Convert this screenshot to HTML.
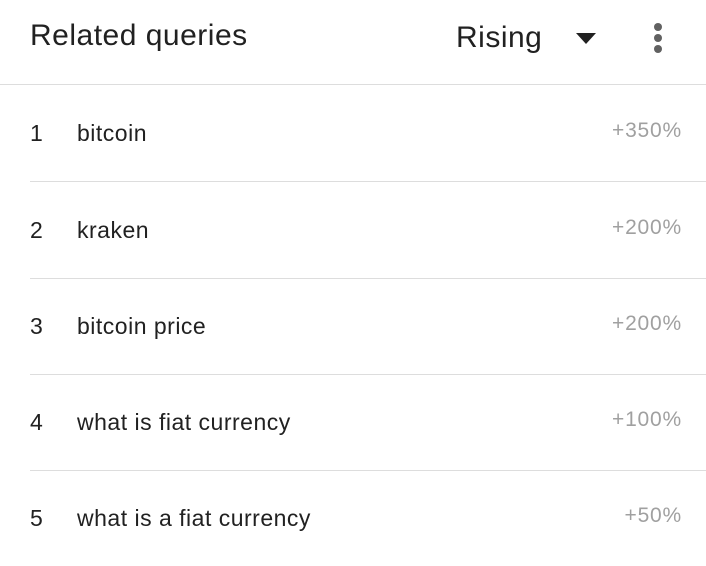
<!DOCTYPE html>
<html><head><meta charset="utf-8"><style>
body{margin:0;width:706px;height:555px;background:#fff;font-family:"Liberation Sans",Roboto,sans-serif;overflow:hidden;position:relative}
.hdr{position:absolute;left:0;top:0;width:706px;height:84px;border-bottom:1px solid #ddd}
.title{position:absolute;left:30px;top:19px;font-size:30px;letter-spacing:0.5px;color:#212121}
.sel{position:absolute;left:456px;top:21px;font-size:30px;letter-spacing:0.5px;color:#212121}
.tri{position:absolute;left:576px;top:33px;width:0;height:0;border-left:10px solid transparent;border-right:10px solid transparent;border-top:11px solid #212121}
.kebab{position:absolute;left:654px;top:23px;width:8px}
.kebab i{display:block;width:8px;height:8px;border-radius:50%;background:#616161;margin-bottom:3px}
.row{position:absolute;left:30px;width:676px;height:96px}
.row.b{border-bottom:1px solid #ddd}
.n{position:absolute;left:0;top:35px;font-size:23px;color:#212121}
.q{position:absolute;left:47px;top:35px;font-size:23px;letter-spacing:0.5px;color:#212121}
.v{position:absolute;right:24px;top:34px;font-size:21px;letter-spacing:0.8px;color:#a0a0a0}
</style></head><body>
<div class="hdr">
<div class="title">Related queries</div>
<div class="sel">Rising</div>
<div class="tri"></div>
<div class="kebab"><i></i><i></i><i></i></div>
</div>
<div class="row b" style="top:85px"><span class="n">1</span><span class="q">bitcoin</span><span class="v">+350%</span></div>
<div class="row b" style="top:182px"><span class="n">2</span><span class="q">kraken</span><span class="v">+200%</span></div>
<div class="row b" style="top:278px"><span class="n">3</span><span class="q">bitcoin price</span><span class="v">+200%</span></div>
<div class="row b" style="top:374px"><span class="n">4</span><span class="q">what is fiat currency</span><span class="v">+100%</span></div>
<div class="row" style="top:470px"><span class="n">5</span><span class="q">what is a fiat currency</span><span class="v">+50%</span></div>
</body></html>
